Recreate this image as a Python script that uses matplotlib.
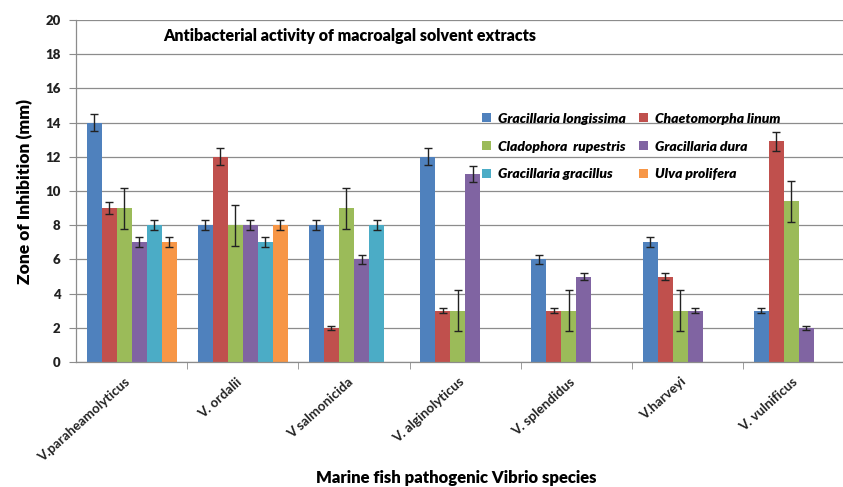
import numpy as np
import matplotlib
matplotlib.use("Agg")
import matplotlib.pyplot as plt
import matplotlib.transforms as mtransforms
from matplotlib.patches import Patch

nan = np.nan
categories = ["V.paraheamolyticus", "V. ordalii", "V salmonicida", "V. alginolyticus",
              "V. splendidus", "V.harveyi", "V. vulnificus"]
series_names = ["Gracillaria longissima", "Chaetomorpha linum", "Cladophora  rupestris",
                "Gracillaria dura", "Gracillaria gracillus", "Ulva prolifera"]

longissima = [14, 8, 8, 12, 6, 7, 3]
linum = [9, 12, 2, 3, 3, 5, 12.9]
rupestris = [9, 8, 9, 3, 3, 3, 9.4]
dura = [7, 8, 6, 11, 5, 3, 2]
gracillus = [8, 7, 8, nan, nan, nan, nan]
prolifera = [7, 8, nan, nan, nan, nan, nan]

longissima_err = [0.5, 0.3, 0.3, 0.5, 0.25, 0.3, 0.15]
linum_err = [0.35, 0.5, 0.1, 0.15, 0.15, 0.2, 0.55]
rupestris_err = [1.2, 1.2, 1.2, 1.2, 1.2, 1.2, 1.2]
dura_err = [0.3, 0.3, 0.25, 0.45, 0.2, 0.15, 0.1]
gracillus_err = [0.3, 0.3, 0.3, nan, nan, nan, nan]
prolifera_err = [0.3, 0.3, nan, nan, nan, nan, nan]

values = [longissima, linum, rupestris, dura, gracillus, prolifera]
errors = [longissima_err, linum_err, rupestris_err, dura_err, gracillus_err, prolifera_err]
colors = ["#4F81BD", "#C0504D", "#9BBB59", "#8064A2", "#4BACC6", "#F79646"]

plt.rcParams['font.family'] = ['Lato', 'DejaVu Sans']
WEIGHT = 'heavy'

fig = plt.figure(figsize=(8.43, 4.87), dpi=100)
W, H = 843, 487
left_px, right_px, bottom_px, top_px = 76, 76 + 7 * 111.2, 362, 20
ax = fig.add_axes([left_px / W, 1 - bottom_px / H, (right_px - left_px) / W, (bottom_px - top_px) / H])

x = np.arange(len(categories))
bw = 0.135
n = len(values)
for i, (v, e, c) in enumerate(zip(values, errors, colors)):
    pos = x + (i - (n - 1) / 2) * bw
    ax.bar(pos, v, width=bw, color=c, zorder=2, linewidth=0)
    ax.errorbar(pos, v, yerr=e, fmt='none', ecolor='#222222', elinewidth=1,
                capsize=3, capthick=1, zorder=3)

ax.set_xlim(-0.5, len(categories) - 0.5)
ax.set_ylim(0, 20)
ax.set_yticks(np.arange(0, 21, 2))
ax.yaxis.grid(True, color='#8C8C8C', linewidth=0.9, zorder=0)
ax.set_axisbelow(True)

ax.set_xticks(x)
ax.set_xticklabels(categories, rotation=42, ha='right', va='center', rotation_mode='anchor',
                   fontsize=9.6, fontweight='bold', color='#222222')
ax.tick_params(axis='x', length=0, pad=13)
shift = mtransforms.ScaledTranslation(-3 / 100, 0, fig.dpi_scale_trans)
for lbl in ax.get_xticklabels():
    lbl.set_transform(lbl.get_transform() + shift)
ax.set_xticks(np.arange(0.5, len(categories) - 0.5, 1), minor=True)
ax.tick_params(axis='x', which='minor', length=5, color='#8C8C8C')
ax.tick_params(axis='y', length=5, color='#8C8C8C', labelsize=9.5, pad=6)
for lbl in ax.get_yticklabels():
    lbl.set_fontweight(WEIGHT)
    lbl.set_color('#222222')

for s in ['top', 'right']:
    ax.spines[s].set_visible(False)
for s in ['left', 'bottom']:
    ax.spines[s].set_color('#8C8C8C')
    ax.spines[s].set_linewidth(0.9)

ax.set_ylabel("Zone of Inhibition (mm)", fontsize=12.5, fontweight=WEIGHT, labelpad=9)
fig.text(456 / W, 1 - 478 / H, "Marine fish pathogenic Vibrio species", ha='center', va='center',
         fontsize=12, fontweight=WEIGHT)
fig.text(350 / W, 1 - 36 / H, "Antibacterial activity of macroalgal solvent extracts",
         ha='center', va='center', fontsize=11.5, fontweight=WEIGHT)

handles = [Patch(facecolor=c, edgecolor='none') for c in colors]
order = [0, 2, 4, 1, 3, 5]
leg = ax.legend([handles[i] for i in order], [series_names[i] for i in order], ncol=2,
                loc='upper left', bbox_to_anchor=(476 / W, 1 - 107 / H),
                bbox_transform=fig.transFigure, frameon=False,
                prop={'weight': WEIGHT, 'style': 'italic', 'size': 10},
                handlelength=0.65, handleheight=0.65, handletextpad=0.5,
                columnspacing=1.0, labelspacing=1.15, borderaxespad=0)

fig.savefig("out.png", dpi=100)
